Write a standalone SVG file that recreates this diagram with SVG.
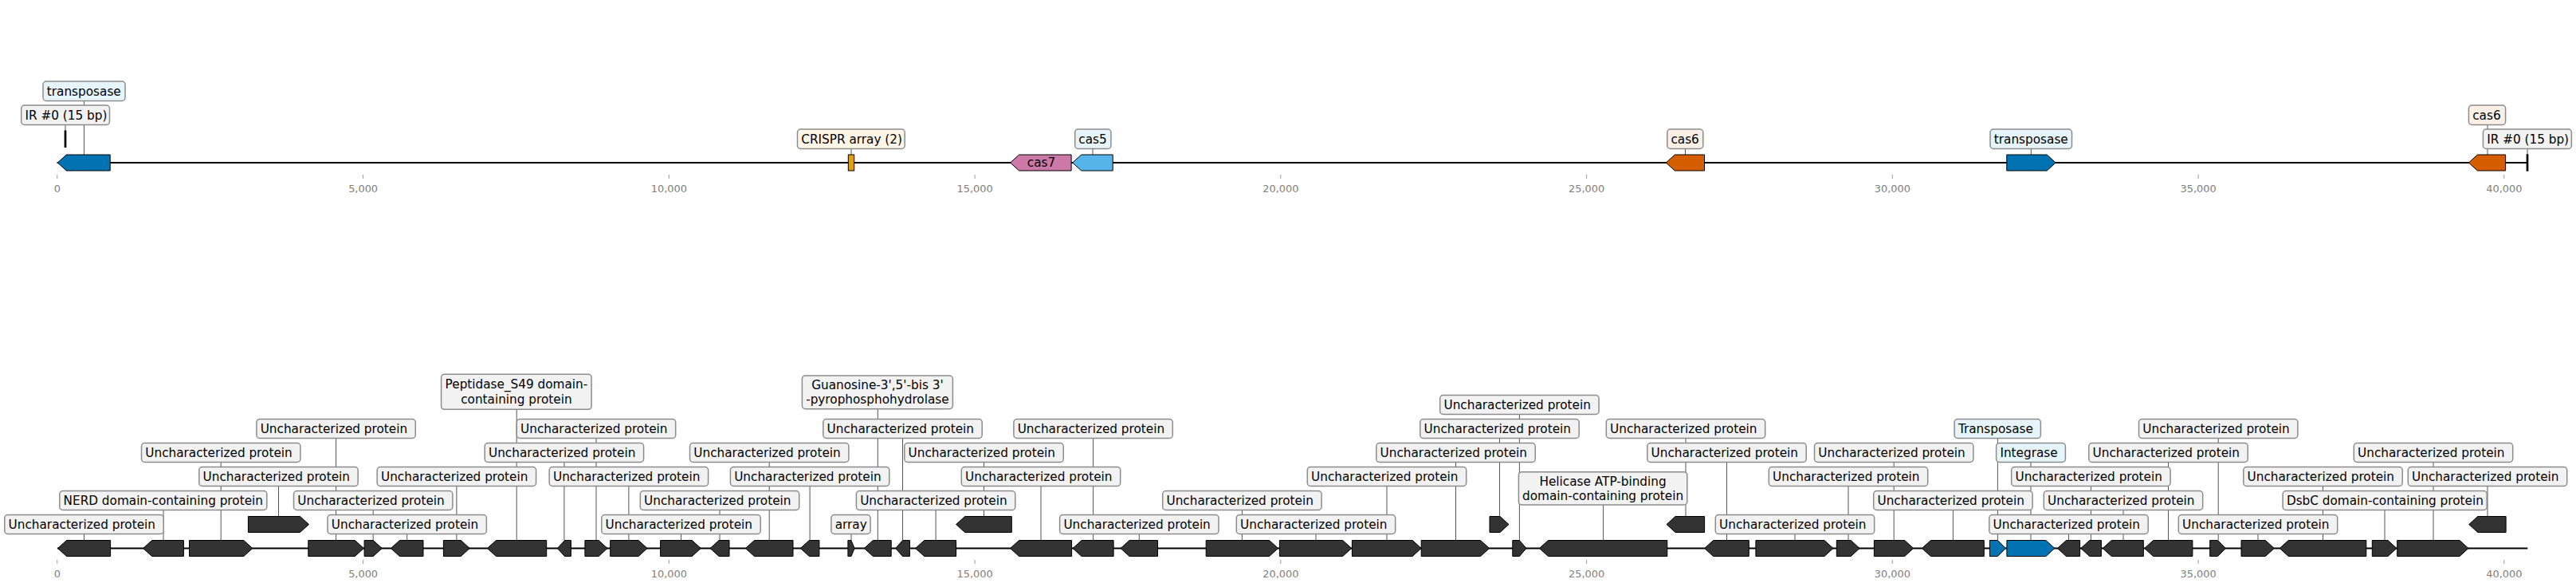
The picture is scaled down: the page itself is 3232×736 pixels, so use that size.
<svg xmlns="http://www.w3.org/2000/svg" width="3232" height="736" viewBox="0 0 3232 736">
<style>
.bg{fill:#ffffff}
.bb{stroke:#000;stroke-width:2;fill:none}
.tk{stroke:#999;stroke-width:1}
.tl{font-family:"DejaVu Sans",sans-serif;font-size:12.9px;fill:#808080;text-anchor:middle}
.ld{stroke:#555;stroke-width:1;fill:none}
.g{fill:#333333;stroke:#000;stroke-width:1;stroke-linejoin:miter}
.b{fill:#f2f2f2;stroke:#8c8c8c;stroke-width:1.5}
.bl{fill:#e6f4fb;stroke:#8c8c8c;stroke-width:1.5}
.bc{fill:#fdf5e6;stroke:#8c8c8c;stroke-width:1.5}
.bo{fill:#fcefe6;stroke:#8c8c8c;stroke-width:1.5}
.t{font-family:"DejaVu Sans",sans-serif;font-size:15.28px;fill:#000}
.tc{font-family:"DejaVu Sans",sans-serif;font-size:15.28px;fill:#000;text-anchor:middle}
.ir{fill:#000;stroke:#000;stroke-width:1.5}
</style>
<rect class="bg" x="0" y="0" width="3232" height="736"/>

<g id="axes">
<line class="bb" x1="71.6" y1="204" x2="3171.2" y2="204"/>
<line class="bb" x1="72" y1="687.5" x2="3171.3" y2="687.5"/>
<g id="ticks-top">
<line class="tk" x1="71.8" y1="219" x2="71.8" y2="224"/><text class="tl" x="71.8" y="240.6">0</text>
<line class="tk" x1="455.6" y1="219" x2="455.6" y2="224"/><text class="tl" x="455.6" y="240.6">5,000</text>
<line class="tk" x1="839.3" y1="219" x2="839.3" y2="224"/><text class="tl" x="839.3" y="240.6">10,000</text>
<line class="tk" x1="1223.1" y1="219" x2="1223.1" y2="224"/><text class="tl" x="1223.1" y="240.6">15,000</text>
<line class="tk" x1="1606.8" y1="219" x2="1606.8" y2="224"/><text class="tl" x="1606.8" y="240.6">20,000</text>
<line class="tk" x1="1990.6" y1="219" x2="1990.6" y2="224"/><text class="tl" x="1990.6" y="240.6">25,000</text>
<line class="tk" x1="2374.3" y1="219" x2="2374.3" y2="224"/><text class="tl" x="2374.3" y="240.6">30,000</text>
<line class="tk" x1="2758.1" y1="219" x2="2758.1" y2="224"/><text class="tl" x="2758.1" y="240.6">35,000</text>
<line class="tk" x1="3141.8" y1="219" x2="3141.8" y2="224"/><text class="tl" x="3141.8" y="240.6">40,000</text>
</g>
<g id="ticks-bottom">
<line class="tk" x1="71.8" y1="702" x2="71.8" y2="707"/><text class="tl" x="71.8" y="723.6">0</text>
<line class="tk" x1="455.6" y1="702" x2="455.6" y2="707"/><text class="tl" x="455.6" y="723.6">5,000</text>
<line class="tk" x1="839.3" y1="702" x2="839.3" y2="707"/><text class="tl" x="839.3" y="723.6">10,000</text>
<line class="tk" x1="1223.1" y1="702" x2="1223.1" y2="707"/><text class="tl" x="1223.1" y="723.6">15,000</text>
<line class="tk" x1="1606.8" y1="702" x2="1606.8" y2="707"/><text class="tl" x="1606.8" y="723.6">20,000</text>
<line class="tk" x1="1990.6" y1="702" x2="1990.6" y2="707"/><text class="tl" x="1990.6" y="723.6">25,000</text>
<line class="tk" x1="2374.3" y1="702" x2="2374.3" y2="707"/><text class="tl" x="2374.3" y="723.6">30,000</text>
<line class="tk" x1="2758.1" y1="702" x2="2758.1" y2="707"/><text class="tl" x="2758.1" y="723.6">35,000</text>
<line class="tk" x1="3141.8" y1="702" x2="3141.8" y2="707"/><text class="tl" x="3141.8" y="723.6">40,000</text>
</g>
</g>

<g id="connectors">
<line class="ld" x1="105.5" y1="126.5" x2="105.5" y2="194"/>
<line class="ld" x1="82" y1="156.5" x2="82" y2="164"/>
<line class="ld" x1="1068" y1="186.5" x2="1068" y2="194"/>
<line class="ld" x1="1371" y1="186.5" x2="1371" y2="194"/>
<line class="ld" x1="2114.5" y1="186.5" x2="2114.5" y2="194"/>
<line class="ld" x1="2548.3" y1="186.5" x2="2548.3" y2="194"/>
<line class="ld" x1="3121" y1="156.5" x2="3121" y2="194"/>
<line class="ld" x1="3171" y1="186.5" x2="3171" y2="194"/>

<line class="ld" x1="105.5" y1="669.5" x2="105.5" y2="677.5"/>
<line class="ld" x1="205" y1="639.5" x2="205" y2="677.5"/>
<line class="ld" x1="277.2" y1="579.5" x2="277.2" y2="677.5"/>
<line class="ld" x1="349.5" y1="609.5" x2="349.5" y2="647.5"/>
<line class="ld" x1="421.6" y1="549.5" x2="421.6" y2="677.5"/>
<line class="ld" x1="468.2" y1="639.5" x2="468.2" y2="677.5"/>
<line class="ld" x1="510.7" y1="669.5" x2="510.7" y2="677.5"/>
<line class="ld" x1="572.9" y1="609.5" x2="572.9" y2="677.5"/>
<line class="ld" x1="648.2" y1="513.3" x2="648.2" y2="677.5"/>
<line class="ld" x1="707.9" y1="579.5" x2="707.9" y2="677.5"/>
<line class="ld" x1="748" y1="549.5" x2="748" y2="677.5"/>
<line class="ld" x1="788.9" y1="609.5" x2="788.9" y2="677.5"/>
<line class="ld" x1="854.5" y1="669.5" x2="854.5" y2="677.5"/>
<line class="ld" x1="903" y1="639.5" x2="903" y2="677.5"/>
<line class="ld" x1="965.2" y1="579.5" x2="965.2" y2="677.5"/>
<line class="ld" x1="1016.1" y1="609.5" x2="1016.1" y2="677.5"/>
<line class="ld" x1="1068" y1="669.5" x2="1068" y2="677.5"/>
<line class="ld" x1="1101.3" y1="512.7" x2="1101.3" y2="677.5"/>
<line class="ld" x1="1132.5" y1="549.5" x2="1132.5" y2="677.5"/>
<line class="ld" x1="1174.1" y1="639.5" x2="1174.1" y2="677.5"/>
<line class="ld" x1="1234.5" y1="579.5" x2="1234.5" y2="647.5"/>
<line class="ld" x1="1306" y1="609.5" x2="1306" y2="677.5"/>
<line class="ld" x1="1371.6" y1="549.5" x2="1371.6" y2="677.5"/>
<line class="ld" x1="1429.3" y1="669.5" x2="1429.3" y2="677.5"/>
<line class="ld" x1="1558.4" y1="639.5" x2="1558.4" y2="677.5"/>
<line class="ld" x1="1651" y1="669.5" x2="1651" y2="677.5"/>
<line class="ld" x1="1740" y1="609.5" x2="1740" y2="677.5"/>
<line class="ld" x1="1826.5" y1="579.5" x2="1826.5" y2="677.5"/>
<line class="ld" x1="1881.5" y1="549.5" x2="1881.5" y2="647.5"/>
<line class="ld" x1="1906.4" y1="519.5" x2="1906.4" y2="677.5"/>
<line class="ld" x1="2011.6" y1="633" x2="2011.6" y2="677.5"/>
<line class="ld" x1="2115" y1="549.5" x2="2115" y2="647.5"/>
<line class="ld" x1="2166.5" y1="579.5" x2="2166.5" y2="677.5"/>
<line class="ld" x1="2252" y1="669.5" x2="2252" y2="677.5"/>
<line class="ld" x1="2319" y1="609.5" x2="2319" y2="677.5"/>
<line class="ld" x1="2376.2" y1="579.5" x2="2376.2" y2="677.5"/>
<line class="ld" x1="2450.4" y1="639.5" x2="2450.4" y2="677.5"/>
<line class="ld" x1="2506.4" y1="549.5" x2="2506.4" y2="677.5"/>
<line class="ld" x1="2548" y1="579.5" x2="2548" y2="677.5"/>
<line class="ld" x1="2595.5" y1="669.5" x2="2595.5" y2="677.5"/>
<line class="ld" x1="2623.4" y1="609.5" x2="2623.4" y2="677.5"/>
<line class="ld" x1="2664" y1="639.5" x2="2664" y2="677.5"/>
<line class="ld" x1="2720.5" y1="579.5" x2="2720.5" y2="677.5"/>
<line class="ld" x1="2783.2" y1="549.5" x2="2783.2" y2="677.5"/>
<line class="ld" x1="2833" y1="669.5" x2="2833" y2="677.5"/>
<line class="ld" x1="2914.5" y1="609.5" x2="2914.5" y2="677.5"/>
<line class="ld" x1="2992" y1="639.5" x2="2992" y2="677.5"/>
<line class="ld" x1="3053" y1="579.5" x2="3053" y2="677.5"/>
<line class="ld" x1="3121" y1="609.5" x2="3121" y2="647.5"/>
</g>

<g id="top-track">
<g id="t-transposase-1">
<polygon points="72.3,204 83.3,194 138.2,194 138.2,214 83.3,214" fill="#0173b2" stroke="#000" stroke-width="1"/>
<rect class="bl" x="54" y="102" width="103" height="24.5" rx="4"/>
<text class="t" x="58.8" y="119.6">transposase</text>
</g>
<g id="t-ir-1">
<rect class="ir" x="81.4" y="164.3" width="1.2" height="20"/>
<rect class="b" x="26.7" y="132" width="110.8" height="24.5" rx="4"/>
<text class="t" x="31.5" y="149.6">IR #0 (15 bp)</text>
</g>
<g id="t-crispr">
<rect x="1064.3" y="194" width="7.4" height="20" fill="#e69f00" stroke="#000" stroke-width="1"/>
<rect class="bc" x="1000.5" y="162" width="134.7" height="24.5" rx="4"/>
<text class="t" x="1005.3" y="179.6">CRISPR array (2)</text>
</g>
<g id="t-cas7">
<polygon points="1267.6,204 1278.6,194 1344.1,194 1344.1,214 1278.6,214" fill="#cc79a7" stroke="#000" stroke-width="1"/>
<text class="tc" x="1306.5" y="209.4">cas7</text>
</g>
<g id="t-cas5">
<polygon points="1345.7,204 1356.7,194 1396.2,194 1396.2,214 1356.7,214" fill="#56b4e9" stroke="#000" stroke-width="1"/>
<rect class="bl" x="1348.7" y="162" width="45.2" height="24.5" rx="4"/>
<text class="t" x="1353.3" y="179.6">cas5</text>
</g>
<g id="t-cas6-1">
<polygon points="2090.3,204 2101.3,194 2138.5,194 2138.5,214 2101.3,214" fill="#d55e00" stroke="#000" stroke-width="1"/>
<rect class="bo" x="2091.8" y="162" width="45" height="24.5" rx="4"/>
<text class="t" x="2096.4" y="179.6">cas6</text>
</g>
<g id="t-transposase-2">
<polygon points="2517.8,194 2568.2,194 2579.2,204 2568.2,214 2517.8,214" fill="#0173b2" stroke="#000" stroke-width="1"/>
<rect class="bl" x="2497" y="162" width="102.5" height="24.5" rx="4"/>
<text class="t" x="2501.8" y="179.6">transposase</text>
</g>
<g id="t-cas6-2">
<polygon points="3097.4,204 3108.4,194 3143.6,194 3143.6,214 3108.4,214" fill="#d55e00" stroke="#000" stroke-width="1"/>
<rect class="bo" x="3097.4" y="132" width="46.2" height="24.5" rx="4"/>
<text class="t" x="3102.2" y="149.6">cas6</text>
</g>
<g id="t-ir-2">
<rect class="ir" x="3170.4" y="194" width="1.2" height="20"/>
<rect class="b" x="3115.4" y="162" width="111" height="24.5" rx="4"/>
<text class="t" x="3120.2" y="179.6">IR #0 (15 bp)</text>
</g>
</g>

<g id="bottom-track">
<g id="g1"><polygon class="g" points="72.5,687.5 83.5,677.5 138.6,677.5 138.6,697.5 83.5,697.5"/><rect class="b" x="5.8" y="645.5" width="199.4" height="24" rx="4"/><text class="t" x="10.6" y="662.9">Uncharacterized protein</text></g>
<g id="g2"><polygon class="g" points="179.6,687.5 190.6,677.5 230.4,677.5 230.4,697.5 190.6,697.5"/><rect class="b" x="74.8" y="615.5" width="260" height="24" rx="4"/><text class="t" x="79.6" y="632.9">NERD domain-containing protein</text></g>
<g id="g3"><polygon class="g" points="237.5,677.5 305.8,677.5 316.8,687.5 305.8,697.5 237.5,697.5"/><rect class="b" x="177.5" y="555.5" width="199.4" height="24" rx="4"/><text class="t" x="182.3" y="572.9">Uncharacterized protein</text></g>
<g id="g4"><polygon class="g" points="311.4,647.5 376.5,647.5 387.5,657.5 376.5,667.5 311.4,667.5"/><rect class="b" x="249.8" y="585.5" width="199.4" height="24" rx="4"/><text class="t" x="254.6" y="602.9">Uncharacterized protein</text></g>
<g id="g5"><polygon class="g" points="386.8,677.5 445.4,677.5 456.4,687.5 445.4,697.5 386.8,697.5"/><rect class="b" x="321.9" y="525.5" width="199.4" height="24" rx="4"/><text class="t" x="326.7" y="542.9">Uncharacterized protein</text></g>
<g id="g6"><polygon class="g" points="457.1,677.5 468.3,677.5 479.3,687.5 468.3,697.5 457.1,697.5"/><rect class="b" x="368.5" y="615.5" width="199.4" height="24" rx="4"/><text class="t" x="373.3" y="632.9">Uncharacterized protein</text></g>
<g id="g7"><polygon class="g" points="490.4,687.5 501.4,677.5 531,677.5 531,697.5 501.4,697.5"/><rect class="b" x="411" y="645.5" width="199.4" height="24" rx="4"/><text class="t" x="415.8" y="662.9">Uncharacterized protein</text></g>
<g id="g8"><polygon class="g" points="556.4,677.5 578.3,677.5 589.3,687.5 578.3,697.5 556.4,697.5"/><rect class="b" x="473.2" y="585.5" width="199.4" height="24" rx="4"/><text class="t" x="478" y="602.9">Uncharacterized protein</text></g>
<g id="g9"><polygon class="g" points="611.4,687.5 622.4,677.5 685.7,677.5 685.7,697.5 622.4,697.5"/><rect class="b" x="553.6" y="469.3" width="188.5" height="44" rx="4"/><text class="tc" x="647.9" y="487.2">Peptidase_S49 domain-</text><text class="tc" x="647.9" y="505.5">containing protein</text></g>
<g id="g10"><polygon class="g" points="699.3,687.5 708.5,677.5 716.4,677.5 716.4,697.5 708.5,697.5"/><rect class="b" x="608.2" y="555.5" width="199.4" height="24" rx="4"/><text class="t" x="613" y="572.9">Uncharacterized protein</text></g>
<g id="g11"><polygon class="g" points="733.9,677.5 751.1,677.5 762.1,687.5 751.1,697.5 733.9,697.5"/><rect class="b" x="648.3" y="525.5" width="199.4" height="24" rx="4"/><text class="t" x="653.1" y="542.9">Uncharacterized protein</text></g>
<g id="g12"><polygon class="g" points="765.7,677.5 801.1,677.5 812.1,687.5 801.1,697.5 765.7,697.5"/><rect class="b" x="689.2" y="585.5" width="199.4" height="24" rx="4"/><text class="t" x="694" y="602.9">Uncharacterized protein</text></g>
<g id="g13"><polygon class="g" points="828.6,677.5 868.3,677.5 879.3,687.5 868.3,697.5 828.6,697.5"/><rect class="b" x="754.8" y="645.5" width="199.4" height="24" rx="4"/><text class="t" x="759.6" y="662.9">Uncharacterized protein</text></g>
<g id="g14"><polygon class="g" points="891,687.5 902,677.5 915,677.5 915,697.5 902,697.5"/><rect class="b" x="803.3" y="615.5" width="199.4" height="24" rx="4"/><text class="t" x="808.1" y="632.9">Uncharacterized protein</text></g>
<g id="g15"><polygon class="g" points="935.4,687.5 946.4,677.5 995,677.5 995,697.5 946.4,697.5"/><rect class="b" x="865.5" y="555.5" width="199.4" height="24" rx="4"/><text class="t" x="870.3" y="572.9">Uncharacterized protein</text></g>
<g id="g16"><polygon class="g" points="1004.3,687.5 1015.3,677.5 1027.9,677.5 1027.9,697.5 1015.3,697.5"/><rect class="b" x="916.4" y="585.5" width="199.4" height="24" rx="4"/><text class="t" x="921.2" y="602.9">Uncharacterized protein</text></g>
<g id="array"><polygon class="g" points="1063.9,677.5 1068,677.5 1072.1,687.5 1068,697.5 1063.9,697.5"/><rect class="b" x="1042.9" y="645.5" width="49.2" height="24" rx="4"/><text class="t" x="1047.7" y="662.9">array</text></g>
<g id="g17"><polygon class="g" points="1084.3,687.5 1095.3,677.5 1118.2,677.5 1118.2,697.5 1095.3,697.5"/><rect class="b" x="1006.4" y="471" width="189" height="41.7" rx="4"/><text class="tc" x="1100.9" y="487.9">Guanosine-3',5'-bis 3'</text><text class="tc" x="1100.9" y="506.2">-pyrophosphohydrolase</text></g>
<g id="g18"><polygon class="g" points="1123.6,687.5 1132.5,677.5 1141.4,677.5 1141.4,697.5 1132.5,697.5"/><rect class="b" x="1032.8" y="525.5" width="199.4" height="24" rx="4"/><text class="t" x="1037.6" y="542.9">Uncharacterized protein</text></g>
<g id="g19"><polygon class="g" points="1148.6,687.5 1159.6,677.5 1199.6,677.5 1199.6,697.5 1159.6,697.5"/><rect class="b" x="1074.4" y="615.5" width="199.4" height="24" rx="4"/><text class="t" x="1079.2" y="632.9">Uncharacterized protein</text></g>
<g id="g20"><polygon class="g" points="1199.6,657.5 1210.6,647.5 1269.3,647.5 1269.3,667.5 1210.6,667.5"/><rect class="b" x="1134.8" y="555.5" width="199.4" height="24" rx="4"/><text class="t" x="1139.6" y="572.9">Uncharacterized protein</text></g>
<g id="g21"><polygon class="g" points="1267.5,687.5 1278.5,677.5 1344.6,677.5 1344.6,697.5 1278.5,697.5"/><rect class="b" x="1206.3" y="585.5" width="199.4" height="24" rx="4"/><text class="t" x="1211.1" y="602.9">Uncharacterized protein</text></g>
<g id="g22"><polygon class="g" points="1346,687.5 1357,677.5 1397.1,677.5 1397.1,697.5 1357,697.5"/><rect class="b" x="1271.9" y="525.5" width="199.4" height="24" rx="4"/><text class="t" x="1276.7" y="542.9">Uncharacterized protein</text></g>
<g id="g23"><polygon class="g" points="1406,687.5 1417,677.5 1452.5,677.5 1452.5,697.5 1417,697.5"/><rect class="b" x="1329.6" y="645.5" width="199.4" height="24" rx="4"/><text class="t" x="1334.4" y="662.9">Uncharacterized protein</text></g>
<g id="g24"><polygon class="g" points="1513.2,677.5 1592.6,677.5 1603.6,687.5 1592.6,697.5 1513.2,697.5"/><rect class="b" x="1458.7" y="615.5" width="199.4" height="24" rx="4"/><text class="t" x="1463.5" y="632.9">Uncharacterized protein</text></g>
<g id="g25"><polygon class="g" points="1605.4,677.5 1684.7,677.5 1695.7,687.5 1684.7,697.5 1605.4,697.5"/><rect class="b" x="1551.3" y="645.5" width="199.4" height="24" rx="4"/><text class="t" x="1556.1" y="662.9">Uncharacterized protein</text></g>
<g id="g26"><polygon class="g" points="1696.4,677.5 1772.2,677.5 1783.2,687.5 1772.2,697.5 1696.4,697.5"/><rect class="b" x="1640.3" y="585.5" width="199.4" height="24" rx="4"/><text class="t" x="1645.1" y="602.9">Uncharacterized protein</text></g>
<g id="g27"><polygon class="g" points="1783.2,677.5 1857.6,677.5 1868.6,687.5 1857.6,697.5 1783.2,697.5"/><rect class="b" x="1726.8" y="555.5" width="199.4" height="24" rx="4"/><text class="t" x="1731.6" y="572.9">Uncharacterized protein</text></g>
<g id="g28"><polygon class="g" points="1869,647.5 1882,647.5 1893,657.5 1882,667.5 1869,667.5"/><rect class="b" x="1781.8" y="525.5" width="199.4" height="24" rx="4"/><text class="t" x="1786.6" y="542.9">Uncharacterized protein</text></g>
<g id="g29"><polygon class="g" points="1897.8,677.5 1906.4,677.5 1915,687.5 1906.4,697.5 1897.8,697.5"/><rect class="b" x="1806.7" y="495.5" width="199.4" height="24" rx="4"/><text class="t" x="1811.5" y="512.9">Uncharacterized protein</text></g>
<g id="g30"><polygon class="g" points="1931.4,687.5 1942.4,677.5 2091.8,677.5 2091.8,697.5 1942.4,697.5"/><rect class="b" x="1905.4" y="591.7" width="211.4" height="41.3" rx="4"/><text class="tc" x="2011.1" y="608.6">Helicase ATP-binding</text><text class="tc" x="2011.1" y="626.9">domain-containing protein</text></g>
<g id="g31"><polygon class="g" points="2091,657.5 2102,647.5 2138.6,647.5 2138.6,667.5 2102,667.5"/><rect class="b" x="2015.3" y="525.5" width="199.4" height="24" rx="4"/><text class="t" x="2020.1" y="542.9">Uncharacterized protein</text></g>
<g id="g32"><polygon class="g" points="2138.6,687.5 2149.6,677.5 2194.3,677.5 2194.3,697.5 2149.6,697.5"/><rect class="b" x="2066.8" y="555.5" width="199.4" height="24" rx="4"/><text class="t" x="2071.6" y="572.9">Uncharacterized protein</text></g>
<g id="g33"><polygon class="g" points="2202.9,677.5 2289,677.5 2300,687.5 2289,697.5 2202.9,697.5"/><rect class="b" x="2152.3" y="645.5" width="199.4" height="24" rx="4"/><text class="t" x="2157.1" y="662.9">Uncharacterized protein</text></g>
<g id="g34"><polygon class="g" points="2304.3,677.5 2322.2,677.5 2333.2,687.5 2322.2,697.5 2304.3,697.5"/><rect class="b" x="2219.3" y="585.5" width="199.4" height="24" rx="4"/><text class="t" x="2224.1" y="602.9">Uncharacterized protein</text></g>
<g id="g35"><polygon class="g" points="2351.4,677.5 2389.7,677.5 2400.7,687.5 2389.7,697.5 2351.4,697.5"/><rect class="b" x="2276.5" y="555.5" width="199.4" height="24" rx="4"/><text class="t" x="2281.3" y="572.9">Uncharacterized protein</text></g>
<g id="g36"><polygon class="g" points="2411.4,687.5 2422.4,677.5 2489.3,677.5 2489.3,697.5 2422.4,697.5"/><rect class="b" x="2350.7" y="615.5" width="199.4" height="24" rx="4"/><text class="t" x="2355.5" y="632.9">Uncharacterized protein</text></g>
<g id="g37"><polygon points="2496.4,677.5 2506.4,677.5 2516.4,687.5 2506.4,697.5 2496.4,697.5" fill="#0173b2" stroke="#000" stroke-width="1"/><rect class="bl" x="2452.1" y="525.5" width="108.3" height="24" rx="4"/><text class="t" x="2456.9" y="542.9">Transposase</text></g>
<g id="g38"><polygon points="2517.9,677.5 2566.9,677.5 2577.9,687.5 2566.9,697.5 2517.9,697.5" fill="#0173b2" stroke="#000" stroke-width="1"/><rect class="bl" x="2504.6" y="555.5" width="86.8" height="24" rx="4"/><text class="t" x="2509.4" y="572.9">Integrase</text></g>
<g id="g39"><polygon class="g" points="2581.4,687.5 2592.4,677.5 2609.6,677.5 2609.6,697.5 2592.4,697.5"/><rect class="b" x="2495.8" y="645.5" width="199.4" height="24" rx="4"/><text class="t" x="2500.6" y="662.9">Uncharacterized protein</text></g>
<g id="g40"><polygon class="g" points="2610.7,687.5 2621.7,677.5 2636.4,677.5 2636.4,697.5 2621.7,697.5"/><rect class="b" x="2523.7" y="585.5" width="199.4" height="24" rx="4"/><text class="t" x="2528.5" y="602.9">Uncharacterized protein</text></g>
<g id="g41"><polygon class="g" points="2638.2,687.5 2649.2,677.5 2689.3,677.5 2689.3,697.5 2649.2,697.5"/><rect class="b" x="2564.3" y="615.5" width="199.4" height="24" rx="4"/><text class="t" x="2569.1" y="632.9">Uncharacterized protein</text></g>
<g id="g42"><polygon class="g" points="2690.6,687.5 2701.6,677.5 2750.9,677.5 2750.9,697.5 2701.6,697.5"/><rect class="b" x="2620.8" y="555.5" width="199.4" height="24" rx="4"/><text class="t" x="2625.6" y="572.9">Uncharacterized protein</text></g>
<g id="g43"><polygon class="g" points="2772.7,677.5 2782.6,677.5 2792.4,687.5 2782.6,697.5 2772.7,697.5"/><rect class="b" x="2683.5" y="525.5" width="199.4" height="24" rx="4"/><text class="t" x="2688.3" y="542.9">Uncharacterized protein</text></g>
<g id="g44"><polygon class="g" points="2812,677.5 2842.4,677.5 2853.4,687.5 2842.4,697.5 2812,697.5"/><rect class="b" x="2733.3" y="645.5" width="199.4" height="24" rx="4"/><text class="t" x="2738.1" y="662.9">Uncharacterized protein</text></g>
<g id="g45"><polygon class="g" points="2860.2,687.5 2871.2,677.5 2968.8,677.5 2968.8,697.5 2871.2,697.5"/><rect class="b" x="2814.8" y="585.5" width="199.4" height="24" rx="4"/><text class="t" x="2819.6" y="602.9">Uncharacterized protein</text></g>
<g id="g46"><polygon class="g" points="2976.3,677.5 2996,677.5 3007,687.5 2996,697.5 2976.3,697.5"/><rect class="b" x="2864.1" y="615.5" width="256.1" height="24" rx="4"/><text class="t" x="2868.9" y="632.9">DsbC domain-containing protein</text></g>
<g id="g47"><polygon class="g" points="3007.7,677.5 3086,677.5 3097,687.5 3086,697.5 3007.7,697.5"/><rect class="b" x="2953.3" y="555.5" width="199.4" height="24" rx="4"/><text class="t" x="2958.1" y="572.9">Uncharacterized protein</text></g>
<g id="g48"><polygon class="g" points="3097.7,657.5 3108.7,647.5 3144.1,647.5 3144.1,667.5 3108.7,667.5"/><rect class="b" x="3021.3" y="585.5" width="199.4" height="24" rx="4"/><text class="t" x="3026.1" y="602.9">Uncharacterized protein</text></g>
</g>
</svg>
